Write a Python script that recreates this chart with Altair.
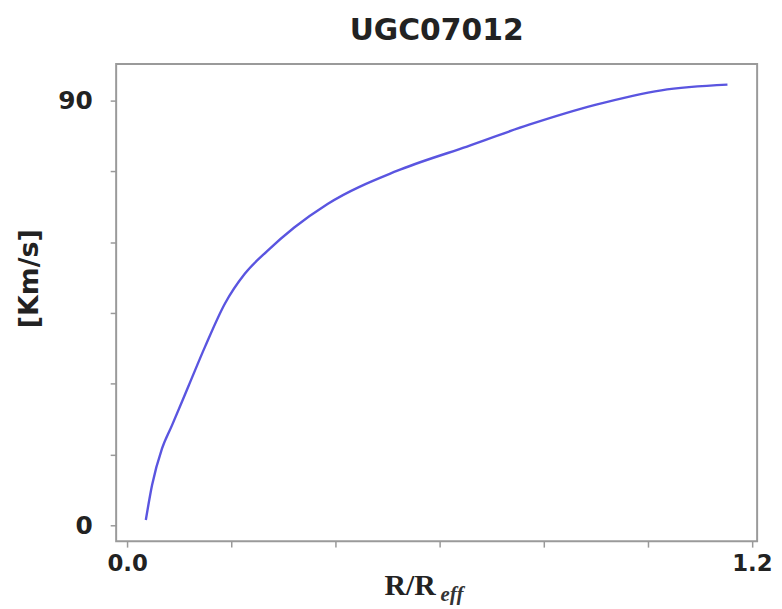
import altair as alt
import pandas as pd

# Rotation curve of UGC07012
r_over_reff = [0.036, 0.048, 0.067, 0.086, 0.118, 0.150, 0.188, 0.226, 0.270,
               0.321, 0.385, 0.518, 0.645, 0.772, 0.899, 1.026, 1.153]
velocity = [1.1, 8.5, 16.2, 21.1, 29.5, 37.9, 47.0, 53.3, 58.2,
            63.1, 68.1, 75.1, 80.0, 84.9, 89.1, 92.2, 93.4]

x_ticks = [0.0, 0.2, 0.4, 0.6, 0.8, 1.0, 1.2]
y_ticks = [0, 15, 30, 45, 60, 75, 90]

df = pd.DataFrame({"r": r_over_reff, "v": velocity})

FONT = "DejaVu Sans"

line = alt.Chart(df).mark_line(
    color="#5a55e0", strokeWidth=2.4, interpolate="monotone"
).encode(
    x=alt.X(
        "r:Q",
        scale=alt.Scale(domain=[-0.021, 1.21], nice=False, zero=False),
        axis=alt.Axis(
            values=x_ticks,
            labelExpr="datum.value === 0 || datum.value === 1.2 ? format(datum.value, '.1f') : ''",
            title="R/R",
            titleFont="Liberation Serif",
            titleFontSize=30,
            titleFontWeight="bold",
            titleColor="#222",
            titleAlign="left",
            titleBaseline="alphabetic",
            titleX=270,
            titleY=54,
            labelFlush=False,
            labelPadding=6,
            labelFontSize=23,
        ),
    ),
    y=alt.Y(
        "v:Q",
        scale=alt.Scale(domain=[-3.4, 97.8], nice=False, zero=False),
        axis=alt.Axis(
            values=y_ticks,
            labelExpr="datum.value === 0 || datum.value === 90 ? format(datum.value, 'd') : ''",
            title="[Km/s]",
            titleFont=FONT,
            titleFontSize=27,
            titleFontWeight="bold",
            titleColor="#222",
            titleAngle=270,
            titleAlign="center",
            titleBaseline="middle",
            titleX=-87,
            titleY=216,
            labelPadding=18,
        ),
    ),
)

sub = alt.Chart(pd.DataFrame({"t": ["eff"]})).mark_text(
    font="Liberation Serif", fontSize=21, fontStyle="italic", fontWeight="bold",
    align="left", baseline="alphabetic", color="#333"
).encode(
    text="t:N",
    x=alt.value(327),
    y=alt.value(541),
)

chart = alt.layer(line, sub).properties(
    width=646,
    height=481,
    title=alt.TitleParams(
        "UGC07012", font=FONT, fontSize=30, fontWeight="bold", color="#222",
        offset=18, anchor="middle",
    ),
    autosize=alt.AutoSizeParams(type="none"),
    padding={"left": 109, "top": 54, "right": 17, "bottom": 62},
    background="white",
).configure_view(
    stroke="#9a9a9a", strokeWidth=2
).configure_axis(
    domain=False,
    grid=False,
    ticks=True,
    tickSize=6,
    tickColor="#999",
    tickWidth=1.5,
    labelFont=FONT,
    labelFontSize=25,
    labelFontWeight="bold",
    labelColor="#222",
)

chart.save("out.html", embed_options={"renderer": "svg", "actions": False})
